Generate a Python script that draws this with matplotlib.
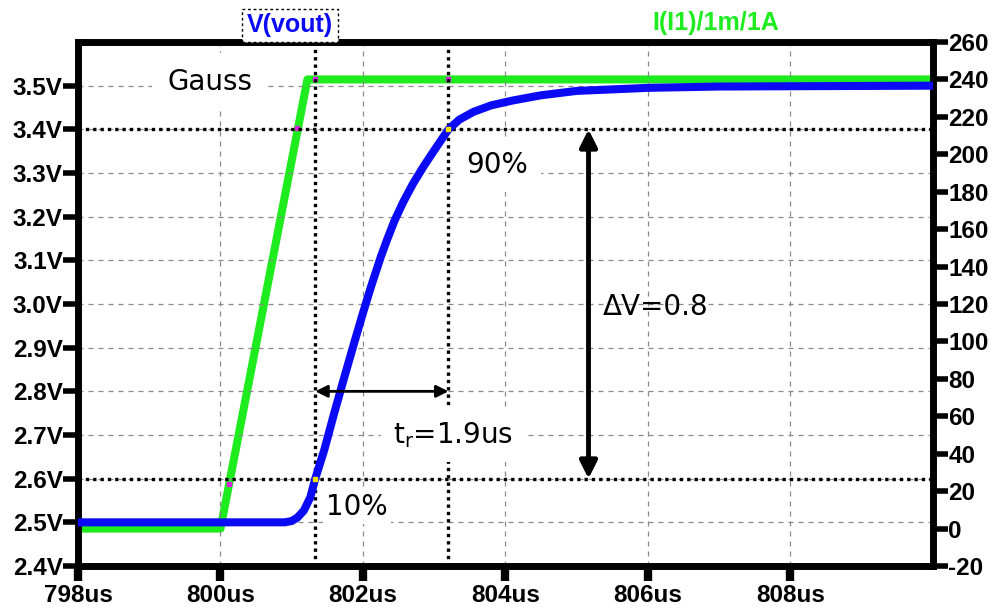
import matplotlib.pyplot as plt

plt.rcParams['mathtext.default'] = 'regular'

# V(vout) step response, time in us
t_vout = [798.0, 800.0, 800.9, 801.0, 801.08, 801.17, 801.26, 801.33, 801.455, 801.596,
          801.737, 801.878, 801.995, 802.113, 802.254, 802.34, 802.44, 802.56,
          802.7, 802.85, 803.0, 803.2, 803.35, 803.55, 803.8, 804.1, 804.5,
          805.0, 806.0, 807.0, 810.0]
v_vout = [2.5, 2.5, 2.5, 2.503, 2.511, 2.527, 2.557, 2.6, 2.665, 2.75,
          2.832, 2.912, 2.977, 3.04, 3.11, 3.148, 3.19, 3.232,
          3.275, 3.315, 3.352, 3.4, 3.422, 3.44, 3.455, 3.466, 3.478,
          3.488, 3.495, 3.498, 3.5]

# load current I(I1)/1m/1A (right axis)
t_load = [798.0, 800.0, 801.22, 810.0]
i_load = [0, 0, 240, 240]

# cursor positions: 10% / 90% levels and their crossing times
v_10, v_90 = 2.6, 3.4
t_10, t_90 = 801.33, 803.2

x_ticks = [798, 800, 802, 804, 806, 808]
x_labels = ['798us', '800us', '802us', '804us', '806us', '808us']
v_ticks = [2.4, 2.5, 2.6, 2.7, 2.8, 2.9, 3.0, 3.1, 3.2, 3.3, 3.4, 3.5]
i_ticks = list(range(-20, 261, 20))

blue = '#0a0af5'
green = '#1eec1e'
tick_font = dict(family='Liberation Sans', weight='bold', size=17.5)
note_font = dict(family='DejaVu Sans', size=20, color='black')

fig = plt.figure(figsize=(9.96, 6.08), dpi=100)
ax = fig.add_axes([78 / 996, 1 - 566 / 608, (933 - 78) / 996, (566 - 42) / 608])
ax2 = ax.twinx()
ax.set_zorder(2)
ax2.set_zorder(1)
ax.patch.set_visible(False)

# traces
ax2.plot(t_load, i_load, color=green, lw=5.8, solid_capstyle='butt', zorder=2)
ax.plot(t_vout, v_vout, color=blue, lw=5.8, solid_capstyle='round',
        solid_joinstyle='round', zorder=3)

ax.set_xlim(798, 810)
ax.set_ylim(2.4, 3.6)
ax2.set_ylim(-20, 260)

# grid
for v in v_ticks[1:]:
    ax.axhline(v, color='#8a8a8a', lw=0.9, ls=(0, (4, 4)), zorder=1)
for t in x_ticks[1:]:
    ax.axvline(t, color='#8a8a8a', lw=0.9, ls=(0, (4, 4)), zorder=1)

# cursors
dot = (0, (1.0, 1.2))
for v in (v_10, v_90):
    ax.axhline(v, color='black', lw=2.4, ls=dot, dash_capstyle='butt', zorder=2)
for t in (t_10, t_90):
    ax.axvline(t, color='black', lw=2.4, ls=dot, dash_capstyle='butt', zorder=2)

# cursor marks on the traces
ax.plot([t_10, t_90], [v_10, v_90], ls='none', marker='s', ms=3, color='#f0e000', zorder=4)
ax2.plot([800.12, 801.07, t_10, t_90], [24, 214, 240, 240], ls='none', marker='s',
         ms=3, color='#e020e0', zorder=3)

# rise time and swing arrows
ax.annotate('', xy=(t_10, 2.8), xytext=(t_90, 2.8),
            arrowprops=dict(arrowstyle='<|-|>', color='black', lw=2,
                            mutation_scale=18, shrinkA=0, shrinkB=0), zorder=5)
ax.annotate('', xy=(805.165, v_90), xytext=(805.165, v_10),
            arrowprops=dict(arrowstyle='<|-|>', color='black', lw=3.5,
                            mutation_scale=26, shrinkA=0, shrinkB=0), zorder=5)

# notes
ax.text(799.25, 3.508, 'Gauss', ha='left', va='center', zorder=6,
        bbox=dict(boxstyle='square,pad=0.55', fc='white', ec='none'), **note_font)
ax.text(803.45, 3.318, '90%', ha='left', va='center', zorder=6,
        bbox=dict(boxstyle='square,pad=0.45', fc='white', ec='none'), **note_font)
ax.text(801.48, 2.536, '10%', ha='left', va='center', zorder=6,
        bbox=dict(boxstyle='square,pad=0.12', fc='white', ec='none'), **note_font)
ax.text(802.42, 2.7, r't$_{r}$=1.9us', ha='left', va='center', zorder=6,
        bbox=dict(boxstyle='square,pad=0.42', fc='white', ec='none'), **note_font)
ax.text(805.37, 2.994, 'ΔV=0.8', ha='left', va='center', zorder=6, **note_font)

# axes styling
for a in (ax, ax2):
    for s in a.spines.values():
        s.set_linewidth(4.8)
        s.set_capstyle('projecting')

ax.set_xticks(x_ticks)
ax.set_xticklabels(x_labels, **tick_font)
ax.set_yticks(v_ticks)
ax.set_yticklabels([f'{v:.1f}V' for v in v_ticks], **tick_font)
ax2.set_yticks(i_ticks)
ax2.set_yticklabels([str(i) for i in i_ticks], **tick_font)

ax.tick_params(axis='x', direction='out', length=11, width=6, pad=2)
ax.tick_params(axis='y', direction='out', length=11, width=4, pad=0)
ax2.tick_params(axis='y', direction='out', length=11, width=4, pad=0)

# trace names above the plot
fig.text(290 / 996, 1 - 25 / 608, 'V(vout)', color=blue, ha='center', va='center',
         family='Liberation Sans', weight='bold', size=18,
         bbox=dict(boxstyle='square,pad=0.18', fc='white', ec='black', ls=(0, (2, 2)), lw=1))
fig.text(716 / 996, 1 - 23 / 608, 'I(I1)/1m/1A', color=green, ha='center', va='center',
         family='Liberation Sans', weight='bold', size=18)

fig.savefig('out.png', dpi=100, facecolor='white')
